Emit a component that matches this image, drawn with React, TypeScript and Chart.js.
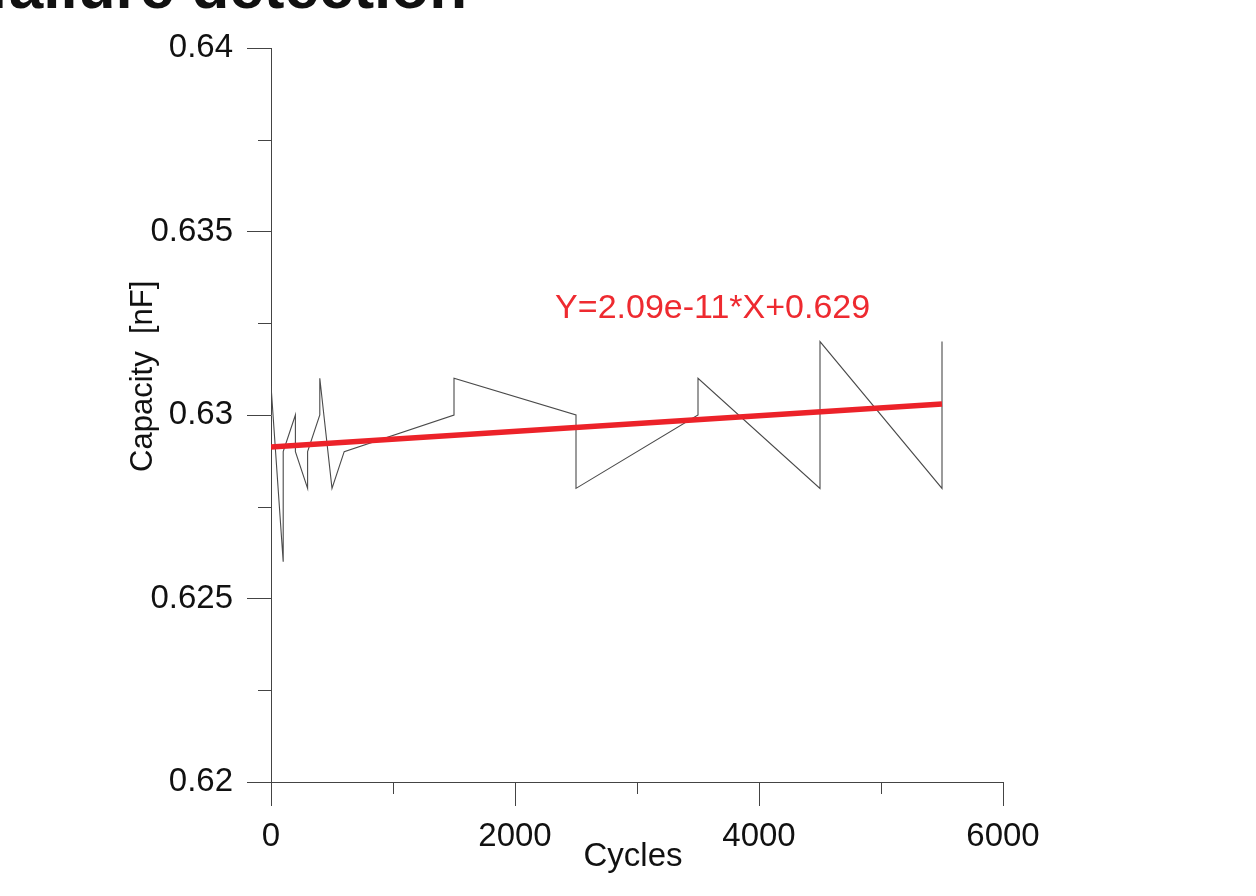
import React, { useEffect, useRef } from "react";
import { Chart, registerables } from "chart.js";

Chart.register(...registerables);

// ---- data ----
const cycles = [0, 100, 100, 200, 200, 300, 300, 400, 400, 500, 600, 1500, 1500, 2500, 2500, 3500, 3500, 4500, 4500, 5500, 5500];
const capacity = [0.6308, 0.626, 0.629, 0.63, 0.629, 0.628, 0.629, 0.63, 0.631, 0.628, 0.629, 0.63, 0.631, 0.63, 0.628, 0.63, 0.631, 0.628, 0.632, 0.628, 0.632];
const fitCycles = [0, 5500];
const fitCapacity = [0.62913, 0.6303];

const xTicks = [0, 2000, 4000, 6000];
const xTickLabels = ["0", "2000", "4000", "6000"];
const xMinorTicks = [1000, 3000, 5000];
const yTicks = [0.62, 0.625, 0.63, 0.635, 0.64];
const yTickLabels = ["0.62", "0.625", "0.63", "0.635", "0.64"];
const yMinorTicks = [0.6225, 0.6275, 0.6325, 0.6375];

const fitLabel = "Y=2.09e-11*X+0.629";
const fitLabelAt = { x: 3620, y: 0.6329 };
const xTitle = "Cycles";
const yTitle = "Capacity  [nF]";
const pageTitle = "failure detection";

const FONT = '"Liberation Sans", Arial, sans-serif';

const extrasPlugin = {
  id: "extras",
  afterDraw(chart: any) {
    const { ctx, chartArea } = chart;
    const x = chart.scales.x;
    const y = chart.scales.y;
    ctx.save();
    // minor ticks
    ctx.strokeStyle = "#444";
    ctx.lineWidth = 1;
    ctx.beginPath();
    xMinorTicks.forEach((v) => {
      const px = Math.round(x.getPixelForValue(v)) + 0.5;
      ctx.moveTo(px, chartArea.bottom);
      ctx.lineTo(px, chartArea.bottom + 12);
    });
    yMinorTicks.forEach((v) => {
      const py = Math.round(y.getPixelForValue(v)) + 0.5;
      ctx.moveTo(chartArea.left - 13, py);
      ctx.lineTo(chartArea.left, py);
    });
    ctx.stroke();

    // fit annotation
    ctx.fillStyle = "#ee2a30";
    ctx.font = `34px ${FONT}`;
    ctx.textAlign = "center";
    ctx.textBaseline = "middle";
    ctx.fillText(fitLabel, x.getPixelForValue(fitLabelAt.x), y.getPixelForValue(fitLabelAt.y));

    // axis titles
    ctx.fillStyle = "#111";
    ctx.font = `33px ${FONT}`;
    ctx.textAlign = "center";
    ctx.textBaseline = "alphabetic";
    ctx.fillText(xTitle, x.getPixelForValue(3000) - 4, chartArea.bottom + 84);

    ctx.save();
    ctx.font = `31px ${FONT}`;
    ctx.translate(chartArea.left - 119, y.getPixelForValue(0.631) - 2);
    ctx.rotate(-Math.PI / 2);
    ctx.fillText(yTitle, 0, 0);
    ctx.restore();

    // page title (cut off at the top)
    ctx.fillStyle = "#111";
    ctx.font = `bold 62px ${FONT}`;
    ctx.textAlign = "right";
    ctx.textBaseline = "alphabetic";
    ctx.fillText(pageTitle, 467, 8);

    ctx.restore();
  },
};

export default function App() {
  const canvasRef = useRef<HTMLCanvasElement | null>(null);

  useEffect(() => {
    if (!canvasRef.current) return;
    const chart = new Chart(canvasRef.current, {
      type: "line",
      data: {
        datasets: [
          {
            label: "fit",
            data: fitCycles.map((c, i) => ({ x: c, y: fitCapacity[i] })),
            borderColor: "#ec2229",
            borderWidth: 5.5,
            pointRadius: 0,
            tension: 0,
          },
          {
            label: "capacity",
            data: cycles.map((c, i) => ({ x: c, y: capacity[i] })),
            borderColor: "#4a4a4a",
            borderWidth: 1.1,
            pointRadius: 0,
            tension: 0,
          },
        ],
      },
      options: {
        responsive: false,
        animation: false,
        devicePixelRatio: 1,
        layout: { padding: { top: 48, right: 253, bottom: 0, left: 0 } },
        plugins: {
          legend: { display: false },
          tooltip: { enabled: false },
          title: { display: false },
        },
        scales: {
          x: {
            type: "linear",
            min: 0,
            max: 6000,
            afterFit: (s: any) => {
              s.height = 114;
            },
            afterBuildTicks: (s: any) => {
              s.ticks = xTicks.map((v) => ({ value: v }));
            },
            ticks: {
              callback: (v: any) => {
                const i = xTicks.indexOf(Number(v));
                return i >= 0 ? xTickLabels[i] : "";
              },
              font: { family: FONT, size: 33 },
              color: "#111",
              padding: 11,
              maxRotation: 0,
              autoSkip: false,
            },
            grid: {
              drawOnChartArea: false,
              drawTicks: true,
              tickLength: 24,
              tickColor: "#444",
              tickWidth: 1,
            },
            border: { display: true, color: "#444", width: 1 },
          },
          y: {
            type: "linear",
            min: 0.62,
            max: 0.64,
            afterFit: (s: any) => {
              s.width = 271;
            },
            afterBuildTicks: (s: any) => {
              s.ticks = yTicks.map((v) => ({ value: v }));
            },
            ticks: {
              callback: (v: any) => {
                const i = yTicks.findIndex((t) => Math.abs(t - Number(v)) < 1e-7);
                return i >= 0 ? yTickLabels[i] : "";
              },
              font: { family: FONT, size: 33 },
              color: "#111",
              padding: 14,
              autoSkip: false,
            },
            grid: {
              drawOnChartArea: false,
              drawTicks: true,
              tickLength: 24,
              tickColor: "#444",
              tickWidth: 1,
            },
            border: { display: true, color: "#444", width: 1 },
          },
        },
      },
      plugins: [extrasPlugin],
    } as any);
    return () => chart.destroy();
  }, []);

  return (
    <div style={{ position: "fixed", left: 0, top: 0, width: 1256, height: 896, background: "#fff" }}>
      <canvas ref={canvasRef} width={1256} height={896} style={{ display: "block" }} />
    </div>
  );
}
